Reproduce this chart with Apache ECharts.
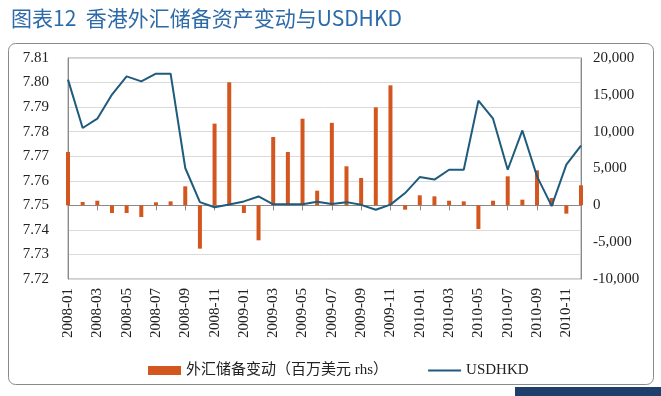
<!DOCTYPE html>
<html>
<head>
<meta charset="utf-8">
<script src="https://cdn.jsdelivr.net/npm/echarts@6/dist/echarts.min.js"></script>
<style>
html,body{margin:0;padding:0;background:#fff;}
#chart{width:661px;height:396px;}
</style>
</head>
<body>
<div id="chart"></div>
<script>
var titleText = '图表12  香港外汇储备资产变动与USDHKD';
var months = [
 '2008-01','2008-02','2008-03','2008-04','2008-05','2008-06','2008-07','2008-08','2008-09','2008-10','2008-11','2008-12',
 '2009-01','2009-02','2009-03','2009-04','2009-05','2009-06','2009-07','2009-08','2009-09','2009-10','2009-11','2009-12',
 '2010-01','2010-02','2010-03','2010-04','2010-05','2010-06','2010-07','2010-08','2010-09','2010-10','2010-11','2010-12'
];
var reserveChange = [
 7240, 450, 630, -1040, -1040, -1580, 410, 540, 2580, -5880, 11090, 16700,
 -1040, -4750, 9280, 7240, 11760, 1990, 11200, 5300, 3710, 13300, 16290, -590,
 1360, 1220, 630, 540, -3210, 630, 3940, 770, 4750, 1000, -1130, 2715
];
var usdhkd = [
 7.8012, 7.7815, 7.7853, 7.7951, 7.8025, 7.8005, 7.8036, 7.8036, 7.7652, 7.7513, 7.7492, 7.7503,
 7.7516, 7.7536, 7.7504, 7.7504, 7.7504, 7.7515, 7.7505, 7.7513, 7.7502, 7.7482, 7.7503, 7.7550,
 7.7615, 7.7605, 7.7645, 7.7645, 7.7926, 7.7853, 7.7645, 7.7805, 7.7618, 7.7497, 7.7666, 7.7743
];
var seriesNames = ['外汇储备变动（百万美元 rhs）', 'USDHKD'];

var serif = '"Liberation Serif", "Noto Sans CJK SC", serif';
var chart = echarts.init(document.getElementById('chart'));
chart.setOption({
  animation: false,
  backgroundColor: '#ffffff',
  title: {
    text: titleText,
    left: 6, top: 3,
    textStyle: {fontFamily: '"Noto Sans CJK SC", sans-serif', fontSize: 21, fontWeight: 'normal', color: '#2d6aa8'}
  },
  graphic: [
    {type: 'rect', shape: {x: 8.5, y: 43.5, width: 645, height: 341, r: 7}, style: {fill: 'none', stroke: '#8a8a8a', lineWidth: 1}, z: -1},
    {type: 'rect', shape: {x: 515, y: 387, width: 146, height: 9}, style: {fill: '#1c3f6b'}, z: -1}
  ],
  grid: {left: 68, right: 80, top: 58, bottom: 117, show: true, borderColor: '#a0a0a0', borderWidth: 1},
  legend: {
    left: 143, top: 358,
    itemGap: 40, itemWidth: 33, itemHeight: 9,
    textStyle: {fontFamily: serif, fontSize: 15, color: '#222'},
    data: [
      {name: seriesNames[0], icon: 'rect'},
      {name: seriesNames[1], icon: 'path://M0,0 L40,0 L40,2.2 L0,2.2 Z', itemStyle: {color: '#1f5b7d'}}
    ]
  },
  xAxis: {
    type: 'category', data: months, boundaryGap: false,
    axisLine: {lineStyle: {color: '#8a8a8a'}},
    axisTick: {show: true, interval: 1, length: 5, lineStyle: {color: '#8a8a8a'}},
    axisLabel: {interval: 1, rotate: 90, margin: 9, fontFamily: serif, fontSize: 15, color: '#222'},
    splitLine: {show: false}
  },
  yAxis: [
    {
      type: 'value', min: 7.72, max: 7.81, interval: 0.01,
      axisLine: {show: true, lineStyle: {color: '#8a8a8a'}},
      axisTick: {show: false},
      axisLabel: {margin: 19, fontFamily: serif, fontSize: 15, color: '#222', formatter: function(v){return v.toFixed(2);}},
      splitLine: {show: true, lineStyle: {color: '#dadada'}}
    },
    {
      type: 'value', min: -10000, max: 20000, interval: 5000,
      axisLine: {show: true, lineStyle: {color: '#8a8a8a'}},
      axisTick: {show: false},
      axisLabel: {margin: 12, fontFamily: serif, fontSize: 15, color: '#222', formatter: function(v){return echarts.format.addCommas(v);}},
      splitLine: {show: false}
    }
  ],
  series: [
    {
      name: seriesNames[0], type: 'bar', yAxisIndex: 1, data: reserveChange,
      barWidth: 4, itemStyle: {color: '#d4561f'}, z: 2
    },
    {
      name: seriesNames[1], type: 'line', yAxisIndex: 0, data: usdhkd,
      symbol: 'none', showSymbol: false, lineStyle: {color: '#1f5b7d', width: 2}, itemStyle: {color: '#1f5b7d'}, z: 3
    }
  ]
});
</script>
</body>
</html>
